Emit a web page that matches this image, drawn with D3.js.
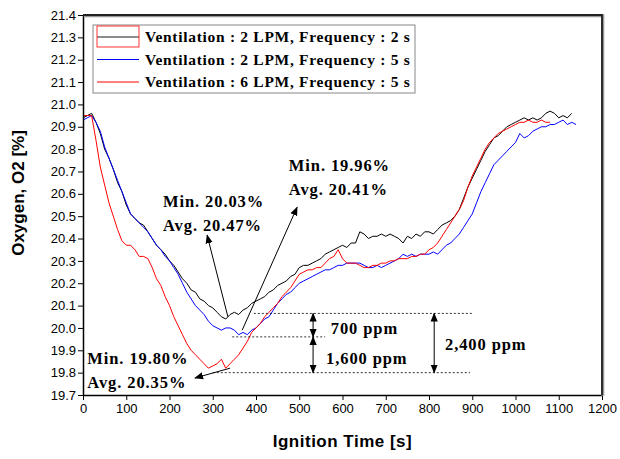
<!DOCTYPE html>
<html>
<head>
<meta charset="utf-8">
<script src="https://cdn.jsdelivr.net/npm/d3@7"></script>
<style>
  body { margin: 0; background: #fff; }
  .tick text { font-family: "Liberation Sans", Arial, sans-serif; font-size: 13px; fill: #000; }
  .serif { font-family: "Liberation Serif", "Times New Roman", serif; font-weight: bold; }
</style>
</head>
<body>
<div id="chart-area"></div>
<script>
/*
*    oxygen vs ignition time
*/

var margin = {top: 15, right: 18, bottom: 64, left: 83};
var width = 519;
var height = 380;

// series: value every 10 s starting at 0 s
var timeStep = 10;
var seriesNames = [
    "Ventilation : 2 LPM, Frequency : 2 s",
    "Ventilation : 2 LPM, Frequency : 5 s",
    "Ventilation : 6 LPM, Frequency : 5 s"
];
var lpm2s2 = [
    20.94, 20.95, 20.96, 20.92, 20.87, 20.80, 20.76, 20.71, 20.65, 20.61,
    20.55, 20.51, 20.49, 20.47, 20.46, 20.43, 20.40, 20.37, 20.35, 20.33,
    20.30, 20.28, 20.25, 20.22, 20.20, 20.17, 20.16, 20.13, 20.12, 20.10,
    20.09, 20.07, 20.05, 20.04, 20.06, 20.07, 20.06, 20.08, 20.09, 20.11,
    20.12, 20.13, 20.14, 20.16, 20.17, 20.19, 20.20, 20.21, 20.23, 20.24,
    20.27, 20.28, 20.28, 20.29, 20.30, 20.31, 20.33, 20.34, 20.35, 20.36,
    20.37, 20.36, 20.38, 20.38, 20.43, 20.42, 20.40, 20.41, 20.41, 20.42,
    20.41, 20.42, 20.41, 20.40, 20.38, 20.41, 20.40, 20.42, 20.41, 20.43,
    20.43, 20.42, 20.44, 20.46, 20.47, 20.48, 20.50, 20.53, 20.58, 20.63,
    20.67, 20.71, 20.75, 20.79, 20.82, 20.85, 20.86, 20.88, 20.90, 20.91,
    20.92, 20.93, 20.94, 20.93, 20.94, 20.93, 20.94, 20.96, 20.97, 20.96,
    20.94, 20.95, 20.94, 20.96
];
var lpm2s5 = [
    20.93, 20.94, 20.95, 20.92, 20.88, 20.81, 20.76, 20.71, 20.66, 20.61,
    20.56, 20.51, 20.49, 20.47, 20.45, 20.43, 20.40, 20.37, 20.35, 20.32,
    20.30, 20.27, 20.24, 20.20, 20.16, 20.13, 20.10, 20.08, 20.06, 20.03,
    20.01, 20.00, 19.99, 20.00, 20.00, 19.99, 19.97, 19.98, 19.97, 19.99,
    20.00, 20.02, 20.04, 20.05, 20.08, 20.11, 20.13, 20.15, 20.16, 20.18,
    20.20, 20.21, 20.22, 20.23, 20.24, 20.25, 20.26, 20.26, 20.27, 20.28,
    20.28, 20.29, 20.29, 20.29, 20.29, 20.28, 20.27, 20.27, 20.28, 20.27,
    20.28, 20.29, 20.30, 20.31, 20.33, 20.32, 20.33, 20.32, 20.33, 20.33,
    20.33, 20.34, 20.33, 20.35, 20.37, 20.38, 20.40, 20.42, 20.45, 20.48,
    20.51, 20.56, 20.61, 20.65, 20.69, 20.73, 20.75, 20.77, 20.79, 20.81,
    20.83, 20.87, 20.85, 20.86, 20.88, 20.89, 20.90, 20.90, 20.91, 20.91,
    20.92, 20.93, 20.91, 20.92, 20.91
];
var lpm6s5 = [
    20.95, 20.95, 20.95, 20.84, 20.72, 20.64, 20.56, 20.50, 20.44, 20.39,
    20.37, 20.37, 20.35, 20.32, 20.32, 20.31, 20.27, 20.22, 20.19, 20.14,
    20.10, 20.05, 20.01, 19.97, 19.93, 19.90, 19.88, 19.86, 19.84, 19.82,
    19.83, 19.84, 19.86, 19.82, 19.84, 19.86, 19.88, 19.91, 19.94, 19.98,
    20.00, 20.02, 20.05, 20.07, 20.09, 20.11, 20.14, 20.16, 20.18, 20.21,
    20.24, 20.25, 20.26, 20.26, 20.27, 20.27, 20.29, 20.31, 20.32, 20.35,
    20.31, 20.29, 20.29, 20.29, 20.28, 20.27, 20.27, 20.28, 20.28, 20.29,
    20.29, 20.30, 20.30, 20.31, 20.31, 20.31, 20.32, 20.32, 20.33, 20.33,
    20.35, 20.36, 20.38, 20.41, 20.44, 20.47, 20.50, 20.53, 20.57, 20.63,
    20.68, 20.72, 20.76, 20.80, 20.83, 20.85, 20.87, 20.88, 20.89, 20.90,
    20.91, 20.92, 20.92, 20.93, 20.92, 20.92, 20.93, 20.92, 20.92
];
var seriesColors = ["#000000", "#0000ff", "#ff0000"];
var xTicks = [0, 100, 200, 300, 400, 500, 600, 700, 800, 900, 1000, 1100, 1200];
var yTicks = [19.7, 19.8, 19.9, 20.0, 20.1, 20.2, 20.3, 20.4, 20.5, 20.6, 20.7, 20.8, 20.9, 21.0, 21.1, 21.2, 21.3, 21.4];

var svg = d3.select("#chart-area")
    .append("svg")
    .attr("width", width + margin.left + margin.right)
    .attr("height", height + margin.top + margin.bottom);

var g = svg.append("g")
    .attr("transform", "translate(" + margin.left + ", " + margin.top + ")");

var x = d3.scaleLinear().domain([0, 1200]).range([0, width]);
var y = d3.scaleLinear().domain([19.7, 21.4]).range([height, 0]);

// arrow heads
var defs = svg.append("defs");
defs.append("marker")
    .attr("id", "head")
    .attr("viewBox", "0 0 10 10")
    .attr("refX", 9).attr("refY", 5)
    .attr("markerWidth", 9).attr("markerHeight", 9)
    .attr("markerUnits", "userSpaceOnUse")
    .attr("orient", "auto-start-reverse")
    .append("path")
    .attr("d", "M0,1 L10,5 L0,9 Z")
    .attr("fill", "#000");

// curves
var line = d3.line()
    .x((d, i) => x(i * timeStep))
    .y((d) => y(d));

[lpm2s2, lpm2s5, lpm6s5].forEach((s, i) => {
    g.append("path")
        .datum(s)
        .attr("fill", "none")
        .attr("stroke", seriesColors[i])
        .attr("stroke-width", 1)
        .attr("d", line);
});

// axes
var bottomAxis = d3.axisBottom(x).tickValues(xTicks).tickSize(5).tickSizeOuter(0)
    .tickFormat(d3.format("d"));
var gx = g.append("g")
    .attr("transform", "translate(0, " + height + ")")
    .call(bottomAxis);
gx.selectAll("text").attr("y", 9);

var leftAxis = d3.axisLeft(y).tickValues(yTicks).tickSize(5).tickSizeOuter(0)
    .tickFormat(d3.format(".1f"));
var gy = g.append("g").call(leftAxis);
gy.selectAll("text").attr("x", -7);
g.selectAll(".domain").attr("stroke-width", 1.5);

// frame top/right
g.append("path")
    .attr("d", "M0,0 H" + width + " V" + height)
    .attr("fill", "none")
    .attr("stroke", "#999")
    .attr("stroke-width", 3)
    .attr("transform", "translate(0.8,0.8)");
g.append("path")
    .attr("d", "M0,0 H" + width + " V" + height)
    .attr("fill", "none")
    .attr("stroke", "#222")
    .attr("stroke-width", 1.8);

// axis titles
g.append("text")
    .attr("x", width / 2)
    .attr("y", height + 52)
    .attr("font-family", "Liberation Sans, Arial, sans-serif")
    .attr("font-weight", "bold")
    .attr("font-size", "17px")
    .attr("letter-spacing", "0.5px")
    .attr("text-anchor", "middle")
    .text("Ignition Time [s]");

g.append("text")
    .attr("transform", "rotate(-90)")
    .attr("x", -(height / 2) + 12)
    .attr("y", -59)
    .attr("font-family", "Liberation Sans, Arial, sans-serif")
    .attr("font-weight", "bold")
    .attr("font-size", "17px")
    .attr("text-anchor", "middle")
    .text("Oxygen, O2 [%]");

// legend
var legend = g.append("g").attr("transform", "translate(10, 10)");
legend.append("rect")
    .attr("width", 322).attr("height", 68)
    .attr("fill", "#fff")
    .attr("stroke", "#888")
    .attr("stroke-width", 1);
seriesNames.forEach((name, i) => {
    var ly = 12 + i * 22.5;
    legend.append("line")
        .attr("x1", 4).attr("x2", 46)
        .attr("y1", ly).attr("y2", ly)
        .attr("stroke", i == 0 ? "#666" : seriesColors[i])
        .attr("stroke-width", i == 0 ? 1.5 : 1);
    legend.append("text")
        .attr("class", "serif")
        .attr("x", 52).attr("y", ly + 5)
        .attr("font-size", "15.5px")
        .attr("letter-spacing", "0.7px")
        .text(name);
});
legend.append("rect")
    .attr("x", 4).attr("y", 1).attr("width", 42).attr("height", 21)
    .attr("fill", "none")
    .attr("stroke", "#f33")
    .attr("stroke-width", 1);

// annotations
function note(t, v, lines) {
    lines.forEach((s, i) => {
        g.append("text")
            .attr("class", "serif")
            .attr("x", x(t))
            .attr("y", y(v) + i * 24)
            .attr("font-size", "16.5px")
            .attr("letter-spacing", "0.9px")
            .text(s);
    });
}
note(185, 20.54, ["Min. 20.03%", "Avg. 20.47%"]);
note(476, 20.70, ["Min. 19.96%", "Avg. 20.41%"]);
note(10, 19.838, ["Min. 19.80%", "Avg. 20.35%"]);

function arrow(t1, v1, t2, v2, both) {
    var a = g.append("line")
        .attr("x1", x(t1)).attr("y1", y(v1))
        .attr("x2", x(t2)).attr("y2", y(v2))
        .attr("stroke", "#000")
        .attr("stroke-width", 1)
        .attr("marker-end", "url(#head)");
    if (both) a.attr("marker-start", "url(#head)");
}
arrow(335, 20.05, 287, 20.415);
arrow(368, 19.99, 495, 20.54);
arrow(340, 19.82, 259, 19.776);

function dashed(t1, t2, v) {
    g.append("line")
        .attr("x1", x(t1)).attr("x2", x(t2))
        .attr("y1", y(v)).attr("y2", y(v))
        .attr("stroke", "#000")
        .attr("stroke-width", 0.8)
        .attr("stroke-dasharray", "2,2");
}
dashed(395, 900, 20.065);
dashed(345, 560, 19.96);
dashed(300, 895, 19.80);

arrow(532, 20.065, 532, 19.96, true);
arrow(532, 19.96, 532, 19.80, true);
arrow(812, 20.065, 812, 19.80, true);

function label(t, v, s) {
    g.append("text")
        .attr("class", "serif")
        .attr("x", x(t)).attr("y", y(v))
        .attr("font-size", "16.5px")
        .attr("letter-spacing", "0.9px")
        .text(s);
}
label(573, 19.975, "700 ppm");
label(562, 19.84, "1,600 ppm");
label(837, 19.9, "2,400 ppm");
</script>
</body>
</html>
